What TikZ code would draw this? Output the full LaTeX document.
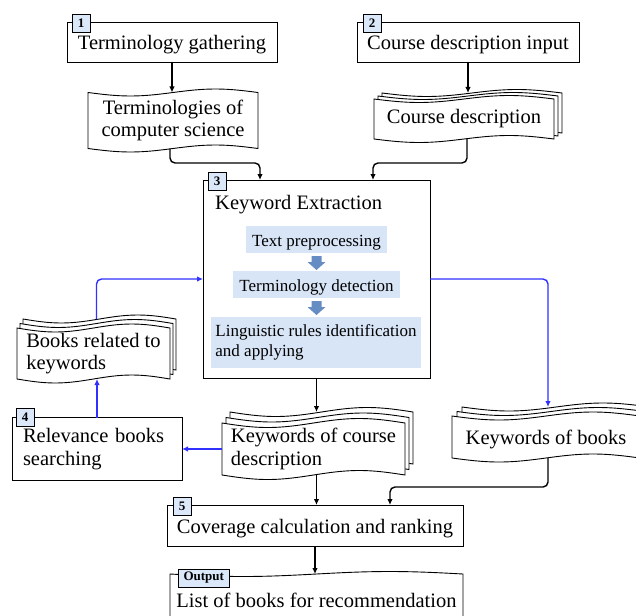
\documentclass[tikz,border=0pt]{standalone}
\usepackage{fontspec}
\setmainfont{Liberation Serif}
\usetikzlibrary{arrows.meta}
\pgfdeclarelayer{background}
\pgfsetlayers{background,main}

\definecolor{tagblue}{RGB}{218,232,250}
\definecolor{bandblue}{RGB}{216,229,247}
\definecolor{fatblue}{RGB}{102,140,196}
\definecolor{lineblue}{RGB}{48,48,255}

% wavy "punched tape" sheet around a node: node, width, amplitude, shift
\newcommand\tapesheet[4]{%
  \path[tapedoc] ([shift={#4}]#1.north west)
      sin ++(#2/4,#3) cos ++(#2/4,-#3) sin ++(#2/4,-#3) cos ++(#2/4,#3)
      -- ([shift={#4}]#1.south east)
      sin ++(-#2/4,-#3) cos ++(-#2/4,#3) sin ++(-#2/4,#3) cos ++(-#2/4,-#3)
      -- cycle;}

% block arrow hanging below a node
\newcommand\blockarrow[1]{%
  \fill[fatblue] ([shift={(-5,3)}]#1.south) -- ++(10,0) -- ++(0,6) -- ++(4,0)
     -- ++(-9,8) -- ++(-9,-8) -- ++(4,0) -- cycle;}

\tikzset{
  bigfont/.style={font=\fontsize{20.5}{22.5}\selectfont},
  box/.style={draw, line width=0.9pt, inner sep=0pt, outer sep=0pt, bigfont, align=center},
  lowtext/.style={text height=19pt, text depth=3.5pt},
  docnode/.style={inner sep=0pt, outer sep=0pt, bigfont},
  tapedoc/.style={draw, fill=white, line width=0.9pt},
  tag/.style={draw, fill=tagblue, line width=0.8pt, inner sep=0pt, outer sep=0pt,
    minimum width=18pt, minimum height=18pt, font=\bfseries\fontsize{13}{13}\selectfont},
  band/.style={fill=bandblue, inner sep=0pt, outer sep=0pt, font=\fontsize{17}{20}\selectfont},
  conn/.style={line width=1.4pt, -{Latex[length=6pt,width=5.5pt]}, rounded corners=5pt},
  bconn/.style={conn, color=lineblue},
}

\begin{document}
\begin{tikzpicture}[x=1pt, y=-1pt]
\useasboundingbox (0,0) rectangle (636,615);

% step boxes
\node[box, lowtext, minimum width=210pt, minimum height=40pt] (b1) at (172,42) {Terminology gathering};
\node[box, lowtext, minimum width=222pt, minimum height=40pt] (b2) at (468,42) {Course description input};
\node[box, minimum width=227pt, minimum height=198pt] (kx) at (316.5,279) {};
\node[box, minimum width=170pt, minimum height=63pt, text width=148pt, inner xsep=11pt, align=left] (rb) at (97,449)
  {Relevance books\\searching};
\node[box, lowtext, minimum width=296pt, minimum height=41pt] (b5) at (315,525.5) {Coverage calculation and ranking};

% inside the keyword extraction box
\node[anchor=base west, bigfont, inner sep=0pt] (kxt) at (215,209) {Keyword Extraction};
\node[band, text height=16pt, text depth=3pt, minimum width=141pt, minimum height=27pt] (s1) at (316.5,239.5) {Text preprocessing};
\node[band, text height=16pt, text depth=3pt, minimum width=167pt, minimum height=27pt] (s2) at (316.5,284.5) {Terminology detection};
\node[band, minimum width=210pt, minimum height=51pt, align=left]
  (s3) at (316,342.5) {Linguistic rules identification\\and applying};
\blockarrow{s1}
\blockarrow{s2}

% documents
\node[docnode, minimum width=170pt, minimum height=56pt, align=center] (doc1) at (173,120.5)
  {Terminologies of\\computer science};
\node[docnode, minimum width=180pt, minimum height=40pt] (doc2) at (464,119) {Course description};
\node[docnode, minimum width=153pt, minimum height=51pt, align=left] (doc3) at (93.5,353.5)
  {Books related to\\keywords};
\node[docnode, minimum width=183pt, minimum height=52pt, align=left] (doc4) at (313.5,449)
  {Keywords of course\\description};
\node[docnode, text height=18pt, text depth=4pt, minimum width=188pt, minimum height=42pt] (doc5) at (546,437) {Keywords of books};
\node[docnode, text height=18pt, text depth=4pt, minimum width=293pt, minimum height=52pt] (od) at (316.5,600) {List of books for recommendation};

\begin{pgfonlayer}{background}
  \tapesheet{doc1}{170}{3.5}{(0,0)}
  \tapesheet{doc2}{180}{3.5}{(8,-6)}
  \tapesheet{doc2}{180}{3.5}{(4,-3)}
  \tapesheet{doc2}{180}{3.5}{(0,0)}
  \tapesheet{doc3}{153}{4}{(6,-9)}
  \tapesheet{doc3}{153}{4}{(3,-4.5)}
  \tapesheet{doc3}{153}{4}{(0,0)}
  \tapesheet{doc4}{183}{4.5}{(8,-11)}
  \tapesheet{doc4}{183}{4.5}{(4,-5.5)}
  \tapesheet{doc4}{183}{4.5}{(0,0)}
  \tapesheet{doc5}{188}{4}{(10,-9)}
  \tapesheet{doc5}{188}{4}{(5,-4.5)}
  \tapesheet{doc5}{188}{4}{(0,0)}
  \tapesheet{od}{293}{2.5}{(0,0)}
\end{pgfonlayer}

% step tags
\node[tag, anchor=west] (l1) at ([shift={(5,1.5)}]b1.north west) {1};
\node[tag, anchor=west] (l2) at ([shift={(6,1.5)}]b2.north west) {2};
\node[tag, anchor=west] (l3) at ([shift={(5,1)}]kx.north west) {3};
\node[tag, anchor=west] (l4) at ([shift={(4,0)}]rb.north west) {4};
\node[tag, anchor=west] (l5) at ([shift={(6,1.5)}]b5.north west) {5};
\node[tag, anchor=west, inner xsep=5.5pt] (lo) at ([shift={(8,4)}]od.north west) {Output};

% free ends on the stacked sheets
\coordinate (d2top) at ([yshift=6pt]doc2.north);
\coordinate (d3top) at ([shift={(3,-9)}]doc3.north);
\coordinate (d4top) at ([yshift=11pt]doc4.north);
\coordinate (d5top) at ([shift={(2,-9)}]doc5.north);

% black flow
\draw[conn] (b1.south) -- (b1.south |- doc1.north);
\draw[conn] (b2.south) -- (b2.south |- d2top);
\draw[conn] ([xshift=-3pt]doc1.south) -- ++(0,14.5) -| ([xshift=-56.5pt]kx.north);
\draw[conn] ([xshift=3pt]doc2.south) -- ++(0,24) -| ([xshift=56.5pt]kx.north);
\draw[conn] (kx.south) -- (kx.south |- d4top);
\draw[conn] (doc4.south -| kx.south) -- (kx.south |- b5.north);
\draw[conn] ([xshift=2pt]doc5.south) -- ++(0,29) -| ([xshift=75pt]b5.north);
\draw[conn] (b5.south) -- (b5.south |- od.north);

% blue feedback loop
\draw[bconn] (kx.east) -| (d5top);
\draw[bconn] (doc4.west) -- (doc4.west -| rb.east);
\draw[bconn] (rb.north) -- (rb.north |- doc3.south);
\draw[bconn] (d3top) |- (kx.west);
\end{tikzpicture}
\end{document}
